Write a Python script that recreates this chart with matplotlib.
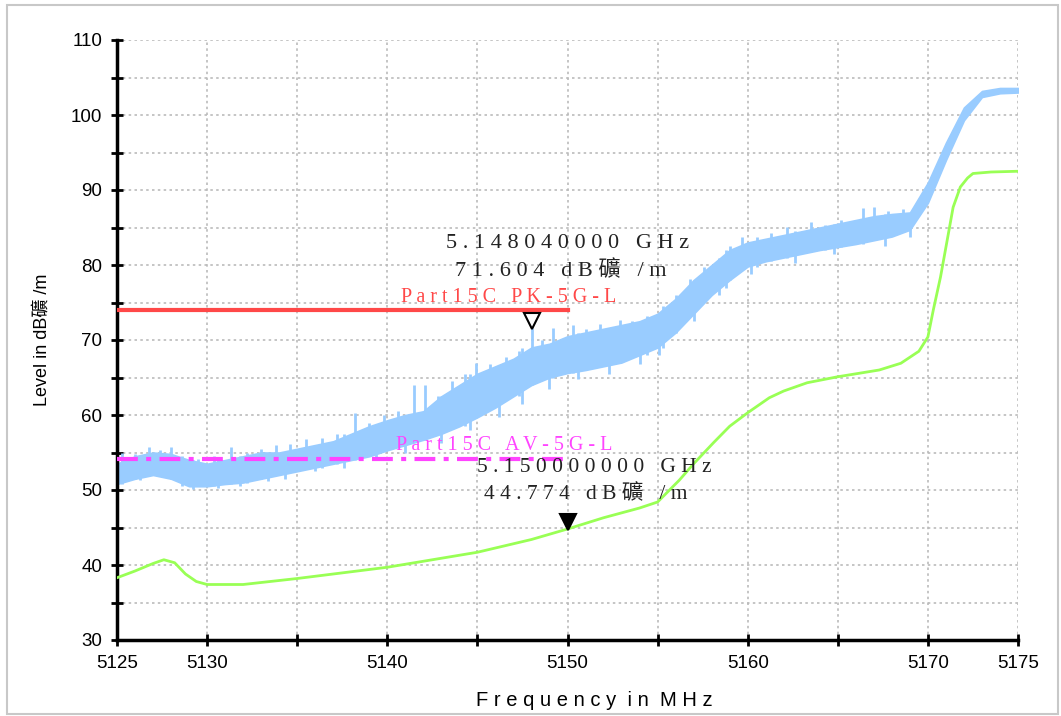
import matplotlib
matplotlib.use("Agg")
import matplotlib.pyplot as plt
import matplotlib.transforms as mtrans
from matplotlib.patches import Rectangle

# peak trace (light blue) - lower / upper edge of the noisy band, read per MHz
pk_freq = list(range(5125, 5176))
pk_low = [50.8, 51.5, 52.0, 51.5, 50.5, 50.5, 50.8, 51.0, 51.5, 52.0,
          52.5, 53.0, 53.5, 54.0, 54.5, 55.3, 56.0, 56.7, 57.5, 58.5,
          59.7, 61.0, 62.5, 64.0, 65.0, 65.6, 66.0, 66.5, 67.0, 68.0,
          69.0, 71.0, 73.5, 76.0, 78.0, 79.8, 80.5, 81.0, 81.5, 82.0,
          82.4, 82.8, 83.3, 83.8, 84.7, 88.3, 94.0, 99.3, 102.4, 102.9, 103.0]
pk_high = [53.5, 54.5, 55.0, 54.8, 54.0, 53.5, 54.0, 54.5, 55.0, 55.0,
           55.5, 56.0, 56.5, 57.5, 58.5, 59.3, 60.0, 60.5, 62.5, 64.0,
           65.5, 66.5, 67.5, 69.0, 69.5, 70.5, 71.0, 71.5, 72.0, 72.5,
           73.5, 75.5, 78.0, 80.0, 82.0, 83.0, 83.5, 84.0, 84.5, 85.0,
           85.5, 86.0, 86.5, 86.8, 87.0, 91.0, 96.3, 101.0, 103.2, 103.6, 103.6]
# spikes sticking out above the band
up_freq = [5125.3, 5126.0, 5126.8, 5127.4, 5128.0, 5128.6, 5129.5, 5130.4, 5131.3,
           5132.2, 5133.0, 5133.8, 5134.6, 5135.5, 5136.4, 5137.2, 5138.2, 5139.0,
           5139.8, 5140.6, 5141.5, 5142.1, 5142.8, 5143.6, 5144.3, 5144.9, 5145.7,
           5146.6, 5147.3, 5148.04, 5148.6, 5149.2, 5150.3, 5151.0, 5151.8, 5152.9,
           5153.6, 5154.4, 5155.3, 5156.0, 5156.8, 5157.6, 5158.4, 5159.0, 5159.7,
           5160.5, 5161.3, 5162.2, 5163.5, 5164.3, 5165.2, 5166.4, 5167.0, 5167.8,
           5168.6]
up_top = [55.0, 54.8, 55.7, 55.3, 55.8, 54.6, 54.2, 54.6, 55.7,
          55.0, 55.5, 56.0, 56.2, 56.8, 57.0, 57.5, 60.3, 59.0,
          60.0, 60.5, 64.0, 64.0, 62.5, 64.5, 65.5, 66.9, 66.8,
          67.8, 68.5, 71.6, 70.0, 71.6, 72.0, 71.5, 72.2, 72.7,
          72.5, 73.2, 74.5, 76.0, 78.2, 79.8, 81.0, 82.5, 83.7,
          83.8, 84.3, 85.1, 85.7, 85.3, 86.0, 87.6, 87.7, 87.2,
          87.5]
# spikes dipping below the band
down_freq = [5126.3, 5129.2, 5130.6, 5131.8, 5133.4, 5134.3, 5136.0, 5137.6, 5139.4,
             5141.0, 5143.0, 5144.6, 5146.2, 5147.5, 5149.0, 5150.6, 5152.3, 5154.0,
             5155.1, 5157.0, 5158.8, 5160.2, 5162.6, 5164.8, 5167.6, 5169.0]
down_bottom = [51.3, 50.2, 50.3, 50.5, 51.2, 51.5, 52.5, 53.0, 54.0,
               55.0, 56.3, 58.0, 59.8, 61.5, 63.5, 64.8, 65.5, 66.8,
               68.0, 72.5, 77.0, 78.8, 80.3, 81.5, 82.5, 83.8]

# average trace (green)
av_freq = [5125, 5126, 5127, 5127.6, 5128.2, 5128.8, 5129.4, 5130, 5132, 5135,
           5138, 5140, 5142, 5145, 5148, 5150, 5152, 5154, 5155, 5156.2,
           5157, 5158.1, 5159, 5160, 5161.2, 5162, 5163.3, 5165, 5167.3, 5168.5,
           5169.5, 5170, 5170.3, 5170.7, 5171.1, 5171.4, 5171.8, 5172.2, 5172.5,
           5173.5, 5175]
av_level = [38.3, 39.2, 40.2, 40.7, 40.3, 38.8, 37.8, 37.4, 37.4, 38.2,
            39.1, 39.7, 40.5, 41.7, 43.4, 44.8, 46.3, 47.6, 48.4, 51.3,
            53.5, 56.3, 58.5, 60.3, 62.3, 63.2, 64.3, 65.1, 66.0, 66.9,
            68.5, 70.4, 74.0, 78.4, 83.7, 87.7, 90.4, 91.6, 92.2, 92.4, 92.5]

# limit lines
pk_limit = 74.0
av_limit = 54.2
limit_end = 5150

# markers
m1_f, m1_v = 5148.04, 71.604
m2_f, m2_v = 5150.0, 44.774

x_ticks = list(range(5125, 5176, 5))
x_labels = ["5125", "5130", "", "5140", "", "5150", "", "5160", "", "5170", "5175"]
y_ticks = list(range(30, 111, 5))
y_labels = [str(v) if v % 10 == 0 else "" for v in y_ticks]

blue = "#99CCFF"
green = "#99FF55"
red = "#FF4848"
pink = "#FF44FF"
serif_cjk = ["Liberation Serif", "Noto Sans CJK TC"]
sans_cjk = ["Liberation Sans", "Noto Sans CJK TC"]


def spaced(s):
    return " ".join(s)


def band_at(f, edge):
    return edge[round(f) - 5125]


fig = plt.figure(figsize=(10.61, 7.16), dpi=100)
ax = fig.add_axes([117 / 1061, 76 / 716, 901 / 1061, 600 / 716])

# outer grey frame
fig.patches.append(Rectangle((7 / 1061, 2 / 716), 1051 / 1061, 709 / 716,
                             transform=fig.transFigure, fill=False,
                             edgecolor="#C8C8C8", lw=1.5))

ax.fill_between(pk_freq, pk_low, pk_high, color=blue, lw=1.2, zorder=2)
ax.vlines(up_freq, [band_at(f, pk_low) for f in up_freq], up_top,
          color=blue, lw=2, zorder=2)
ax.vlines(down_freq, down_bottom, [band_at(f, pk_high) for f in down_freq],
          color=blue, lw=2, zorder=2)
ax.plot(av_freq, av_level, color=green, lw=2, zorder=3)

ax.plot([5125, limit_end], [pk_limit, pk_limit], color=red, lw=3, zorder=4)
ax.plot([5125, limit_end], [av_limit, av_limit], color=pink, lw=3,
        dashes=(5, 2, 1.2, 2), zorder=4)

ax.text(5146.75, 75.6, spaced("Part15C PK-5G-L"), color=red, fontsize=14.5,
        family=serif_cjk, ha="center", va="center", zorder=5)
ax.text(5146.5, 55.9, spaced("Part15C AV-5G-L"), color=pink, fontsize=14.5,
        family=serif_cjk, ha="center", va="center", zorder=5)

# marker triangles, tip on the trace point
up = mtrans.offset_copy(ax.transData, fig=fig, y=7, units="dots")
ax.plot([m1_f], [m1_v], marker="v", ms=12, mfc="white", mec="black", mew=1.5,
        transform=up, zorder=6)
ax.plot([m2_f], [m2_v], marker="v", ms=12, mfc="black", mec="black", mew=1.5,
        transform=up, zorder=6)

ax.text(5150.0, 82.8, spaced("5.148040000 GHz"), fontsize=16, family=serif_cjk,
        ha="center", va="center", color="#222222", zorder=5)
ax.text(5149.6, 79.2, spaced("71.604 dB礦 /m"), fontsize=16, family=serif_cjk,
        ha="center", va="center", color="#222222", zorder=5)
ax.text(5151.5, 53.0, spaced("5.150000000 GHz"), fontsize=15.5, family=serif_cjk,
        ha="center", va="center", color="#222222", zorder=5)
ax.text(5151.0, 49.4, spaced("44.774 dB礦 /m"), fontsize=15.5, family=serif_cjk,
        ha="center", va="center", color="#222222", zorder=5)

ax.set_xlim(5125, 5175)
ax.set_ylim(30, 110)
ax.set_xticks(x_ticks)
ax.set_xticklabels(x_labels, family="Liberation Sans", fontsize=13.5)
ax.set_yticks(y_ticks)
ax.set_yticklabels(y_labels, family="Liberation Sans", fontsize=13.5)
ax.tick_params(direction="inout", length=9, width=2, pad=6)
ax.grid(True, color="#BBBBBB", linestyle=(0, (1.5, 2)), lw=1.2)
for side in ["top", "right"]:
    ax.spines[side].set_visible(False)
for side in ["left", "bottom"]:
    ax.spines[side].set_linewidth(2.5)

ax.set_xlabel("F r e q u e n c y  i n  M H z", family="Liberation Sans",
              fontsize=14.5, labelpad=10)
ax.xaxis.set_label_coords(0.53, -0.085)
ax.set_ylabel("Level in dB礦 /m", family=sans_cjk, fontsize=13, labelpad=15)

fig.savefig("out.png", dpi=100)
